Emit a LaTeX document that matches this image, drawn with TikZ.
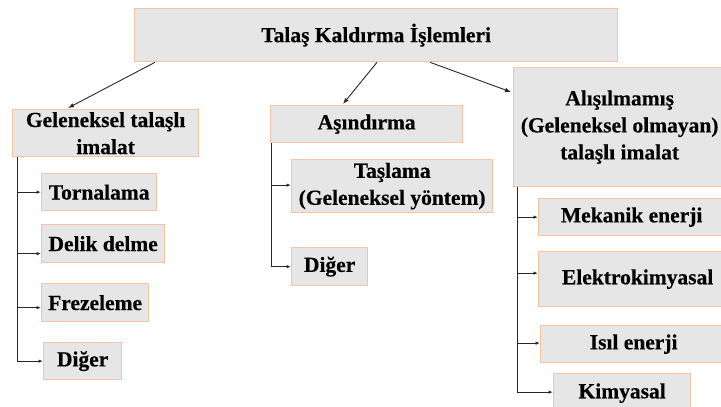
\documentclass[tikz,border=0pt]{standalone}
\usepackage{fontspec}
\setmainfont{Liberation Serif}[BoldFeatures={FakeBold=0.4}]
\usetikzlibrary{arrows.meta,calc}
\definecolor{boxfill}{RGB}{231,230,230}
\definecolor{boxline}{RGB}{246,196,164}
\definecolor{conn}{RGB}{40,40,40}
\tikzset{
  box/.style={draw=boxline,fill=boxfill,line width=1.3pt,anchor=north west,inner sep=0pt,align=center,
    font=\fontsize{21.5}{27}\selectfont\bfseries},
  conline/.style={draw=conn,line width=0.9pt},
  bigarr/.style={conline,-{Latex[length=6pt,width=4.5pt]}},
  smallarr/.style={conline,-{Latex[length=4.5pt,width=3.5pt]}},
}
\begin{document}
\begin{tikzpicture}[x=1pt,y=-1pt]
\useasboundingbox (0,0) rectangle (721,407);
\node[box,minimum width=483pt,minimum height=53pt] (top) at (134,8) {Talaş Kaldırma İşlemleri};
\node[box,minimum width=186pt,minimum height=47pt] (gel) at (12,109) {Geleneksel talaşlı\\imalat};
\node[box,minimum width=115pt,minimum height=37pt] (torn) at (41,173) {Tornalama};
\node[box,minimum width=123pt,minimum height=38pt] (delik) at (41,224) {Delik delme};
\node[box,minimum width=107pt,minimum height=38pt] (frez) at (41,283) {Frezeleme};
\node[box,minimum width=78pt,minimum height=37pt] (dig1) at (43,342) {Diğer};
\node[box,minimum width=192pt,minimum height=37pt] (asin) at (270,105) {Aşındırma};
\node[box,minimum width=201pt,minimum height=53pt] (tas) at (291,159) {Taşlama\\(Geleneksel yöntem)};
\node[box,minimum width=76pt,minimum height=38pt] (dig2) at (291,247) {Diğer};
\node[box,minimum width=212pt,minimum height=119pt] (alis) at (513,67) {Alışılmamış\\(Geleneksel olmayan)\\talaşlı imalat};
\node[box,minimum width=186pt,minimum height=37pt] (mek) at (538,198) {Mekanik enerji};
\node[box,minimum width=198pt,minimum height=55pt] (elek) at (538,251) {Elektrokimyasal};
\node[box,minimum width=186pt,minimum height=37pt] (isil) at (540,325) {Isıl enerji};
\node[box,minimum width=137pt,minimum height=39pt] (kim) at (553,373) {Kimyasal};
% top-level arrows
\draw[bigarr] ($(top.south west)+(21,0)$) -- ($(gel.north west)+(56,-1)$);
\draw[bigarr] ($(top.south west)+(243,0)$) -- ($(asin.north west)+(73,-1)$);
\draw[bigarr] ($(top.south west)+(296,0)$) -- ($(alis.north west)+(-2,25)$);
% left group
\draw[smallarr] ($(gel.south west)+(5,0)$) |- ([yshift=0pt]torn.west);
\draw[smallarr] ($(gel.south west)+(5,0)$) |- ([yshift=-10pt]delik.west);
\draw[smallarr] ($(gel.south west)+(5,0)$) |- ([yshift=-5pt]frez.west);
\draw[smallarr] ($(gel.south west)+(5,0)$) |- (dig1.west);
% middle group
\draw[smallarr] ($(asin.south west)+(1,0)$) |- ([yshift=1pt]tas.west);
\draw[smallarr] ($(asin.south west)+(1,0)$) |- (dig2.west);
% right group
\draw[smallarr] ($(alis.south west)+(4,0)$) |- (mek.west);
\draw[smallarr] ($(alis.south west)+(4,0)$) |- ([yshift=6pt]elek.west);
\draw[smallarr] ($(alis.south west)+(4,0)$) |- ([yshift=1pt]isil.west);
\draw[smallarr] ($(alis.south west)+(4,0)$) |- ([yshift=1pt]kim.west);
\end{tikzpicture}
\end{document}
